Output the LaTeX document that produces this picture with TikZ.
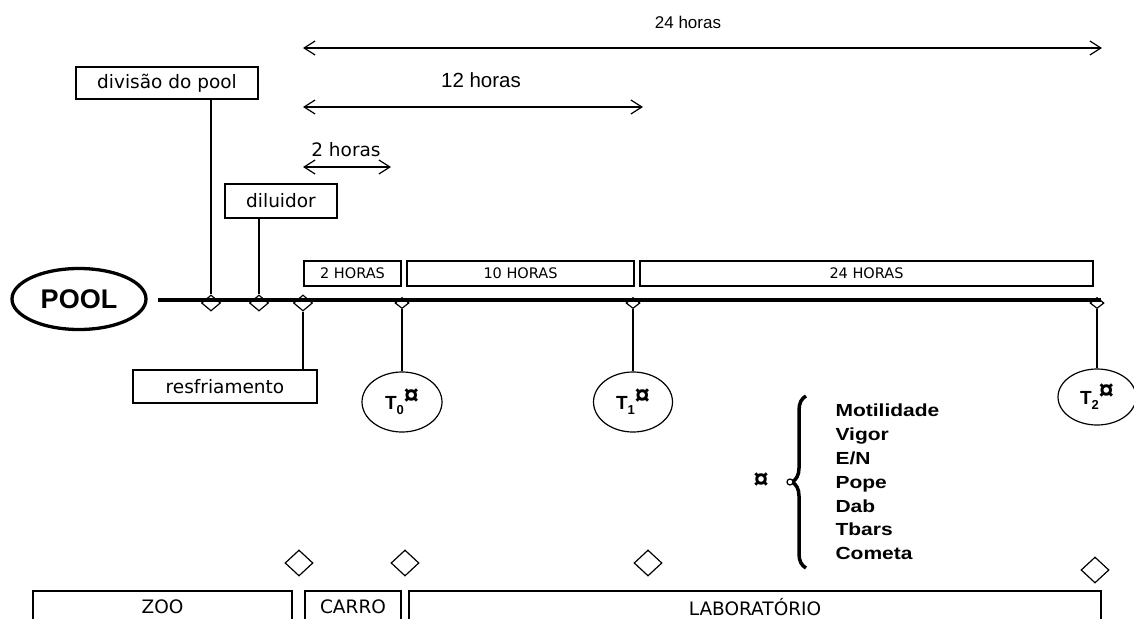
\documentclass[tikz,border=0pt]{standalone}
\usepackage{fontspec}
\setmainfont{DejaVu Sans}
\newfontfamily\lib{Liberation Sans}
\newfontfamily\libb[FakeStretch=1.2]{Liberation Sans}
\usetikzlibrary{shapes.geometric,arrows.meta,decorations.pathreplacing}
\tikzset{
  thin/.style={line width=1.2pt},
  box/.style={draw, thin, rectangle, inner sep=0pt, font=\fontsize{18.5}{20}\selectfont},
  hbox/.style={draw, thin, rectangle, inner sep=0pt, minimum height=25pt, font=\fontsize{14.5}{16}\selectfont},
  bigdia/.style={draw, thin, diamond, inner sep=0pt, minimum width=19pt, minimum height=16pt, fill=white},
  smalldia/.style={draw, thin, diamond, inner sep=0pt, minimum width=14pt, minimum height=11pt, fill=white},
  botdia/.style={draw, thin, diamond, inner sep=0pt, minimum width=28pt, minimum height=26pt},
  tnode/.style={draw, thin, ellipse, inner sep=0pt, font=\lib\bfseries\fontsize{19}{20}\selectfont},
  dim/.style={thin, {Straight Barb[length=11pt,width=14pt]}-{Straight Barb[length=11pt,width=14pt]}},
  botbox/.style={draw, thin, rectangle, inner sep=0pt, minimum height=32pt, font=\fontsize{18.5}{20}\selectfont},
}
\newcommand{\curr}{\raisebox{5pt}{\fontsize{27}{27}\selectfont ¤}}
\newcommand{\tsub}[1]{\raisebox{-5pt}{\fontsize{13}{13}\selectfont #1}}
\begin{document}
\begin{tikzpicture}[x=1pt,y=-1pt]
\useasboundingbox (0,0) rectangle (1134,618);

% dimension arrows
\coordinate (a24l) at (303,48);
\coordinate (a24r) at (1102,48);
\coordinate (a12l) at (303,107);
\coordinate (a12r) at (643,107);
\coordinate (a2l) at (303,167);
\coordinate (a2r) at (391,167);
\draw[dim] (a24l) -- (a24r);
\draw[dim] (a12l) -- (a12r);
\draw[dim] (a2l) -- (a2r);
\node[font=\lib\fontsize{17}{18}\selectfont] (l24) at (688,22) {24 horas};
\node[font=\lib\fontsize{20.5}{22}\selectfont] (l12) at (481,80) {12 horas};
\node[font=\fontsize{18.5}{20}\selectfont] (l2) at (346,150) {2 horas};

% POOL
\node[ellipse, draw, line width=3.3pt, minimum width=134pt, minimum height=61pt,
      font=\lib\bfseries\fontsize{27}{28}\selectfont] (pool) at (79,299) {POOL};

% diamonds on the main line
\node[bigdia] (d1) at (211,303) {};
\node[bigdia] (d2) at (259,303) {};
\node[bigdia] (d3) at (303,303) {};
\node[smalldia] (d4) at (402,303) {};
\node[smalldia] (d5) at (633,303) {};
\node[smalldia] (d6) at (1097,303) {};

% main line
\coordinate (ls) at (158,300);
\coordinate (le) at (1101,300);
\draw[line width=4.6pt] (ls) -- (le);

% top boxes
\node[box, minimum width=182pt, minimum height=32pt] (div) at (167,83) {divisão do pool};
\node[box, minimum width=112pt, minimum height=34pt] (dil) at (281,201) {diluidor};
\node[box, minimum width=184pt, minimum height=33pt] (res) at (225,386.5) {resfriamento};
\draw[thin] (d1.north |- div.south) -- (d1.north);
\draw[thin] (d2.north |- dil.south) -- (d2.north);
\draw[thin] (d3.south) -- (d3.south |- res.north);

% period boxes
\node[hbox, minimum width=97pt] (h2) at (352.5,273.5) {2 HORAS};
\node[hbox, minimum width=227pt] (h10) at (520.5,273.5) {10 HORAS};
\node[hbox, minimum width=453pt] (h24) at (866.5,273.5) {24 HORAS};

% sample ellipses
\node[tnode, minimum width=80pt, minimum height=60pt] (t0) at (402,402) {T\tsub{0}\curr};
\node[tnode, minimum width=79pt, minimum height=60pt] (t1) at (633,402) {T\tsub{1}\curr};
\node[tnode, minimum width=78pt, minimum height=56pt] (t2) at (1097,397) {T\tsub{2}\curr};
\draw[thin] (d4.south) -- (t0.north);
\draw[thin] (d5.south) -- (t1.north);
\draw[thin] (d6.south) -- (t2.north);

% legend brace
\coordinate (bb) at (806,568);
\coordinate (bt) at (806,396);
\draw[line width=3.5pt, decorate, decoration={brace, amplitude=14pt}] (bb) -- (bt);
\node[draw, thin, circle, fill=white, inner sep=0pt, minimum size=6pt] (tip) at (790,482) {};
\node[font=\lib\bfseries\fontsize{27}{27}\selectfont] (cur) at (761,481) {¤};
\node[font=\libb\bfseries\fontsize{17.5}{23.8}\selectfont, align=left, anchor=west] (list) at (832,482)
  {Motilidade\\Vigor\\E/N\\Pope\\Dab\\Tbars\\Cometa};

% bottom diamonds
\node[botdia] (b1) at (299,563) {};
\node[botdia] (b2) at (405,563) {};
\node[botdia] (b3) at (648,563) {};
\node[botdia] (b4) at (1095,570) {};

% bottom boxes
\node[botbox, minimum width=259pt] (zoo) at (162.5,607) {ZOO};
\node[botbox, minimum width=96pt] (carro) at (353,607) {CARRO};
\node[botbox, minimum width=692pt] (lab) at (755,607) {LABORATÓRIO};
\end{tikzpicture}
\end{document}
